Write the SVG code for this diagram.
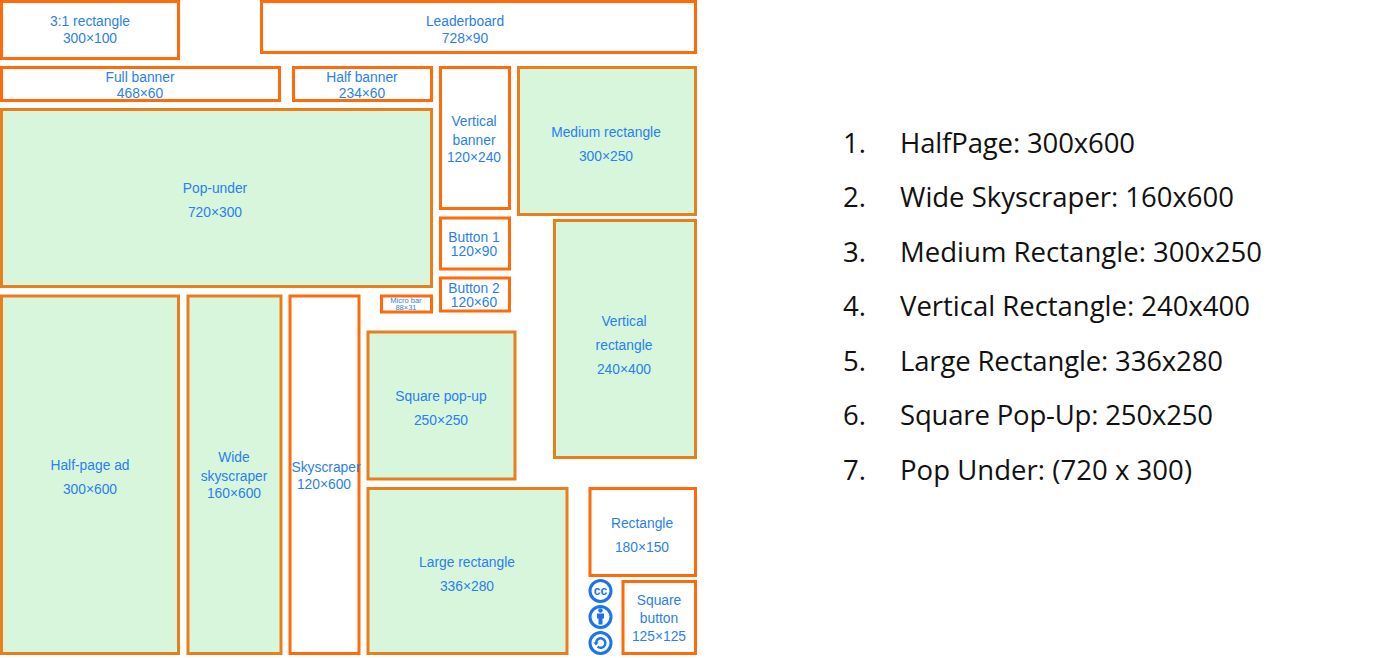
<svg xmlns="http://www.w3.org/2000/svg" width="1385" height="658" viewBox="0 0 1385 658">
<style>
.w{fill:#fff;stroke:#ff6a0a;stroke-width:3}
.g{fill:#d7f6dc;stroke:#e97e1c;stroke-width:3}
text{font-family:"Liberation Sans",Arial,sans-serif;font-size:13.8px;fill:#2a7fee;text-anchor:middle}
.l text{font-family:"Open Sans","Noto Sans",sans-serif;font-size:27.5px;fill:#111;text-anchor:start}
.i{fill:none;stroke:#1a73f0;stroke-width:3}
</style>
<rect width="1385" height="658" fill="#fff"/>
<g id="n1"><rect class="w" x="1.500" y="1.500" width="177" height="57"/><text x="90" y="25.500">3:1 rectangle</text><text x="90" y="43">300×100</text></g>
<g id="n2"><rect class="w" x="261.500" y="1.500" width="434" height="51"/><text x="465" y="25.500">Leaderboard</text><text x="465" y="43">728×90</text></g>
<g id="n3"><rect class="w" x="1.500" y="67.500" width="278" height="33"/><text x="140" y="82">Full banner</text><text x="140" y="97.500">468×60</text></g>
<g id="n4"><rect class="w" x="293.500" y="67.500" width="138" height="33"/><text x="362" y="82">Half banner</text><text x="362" y="97.500">234×60</text></g>
<g id="n5"><rect class="w" x="440.500" y="67.500" width="69" height="141"/><text x="474" y="126">Vertical</text><text x="474" y="144.500">banner</text><text x="474" y="161.500">120×240</text></g>
<g id="n6"><rect class="g" x="518.500" y="67.500" width="177" height="147"/><text x="606" y="136.500">Medium rectangle</text><text x="606" y="160.500">300×250</text></g>
<g id="n7"><rect class="g" x="1.500" y="109.500" width="430" height="177"/><text x="215" y="193">Pop-under</text><text x="215" y="217">720×300</text></g>
<g id="n8"><rect class="w" x="440.500" y="218" width="69" height="51"/><text x="474" y="241.500">Button 1</text><text x="474" y="256">120×90</text></g>
<g id="n9"><rect class="g" x="554.500" y="220.500" width="141" height="237"/><text x="624" y="325.500">Vertical</text><text x="624" y="349.500">rectangle</text><text x="624" y="373.500">240×400</text></g>
<g id="n10"><rect class="w" x="440.500" y="278" width="69" height="33"/><text x="474" y="292.500">Button 2</text><text x="474" y="307">120×60</text></g>
<g id="n11"><rect class="w" x="381.500" y="296" width="50" height="16"/><text x="406" y="303" style="font-size:7.500px">Micro bar</text><text x="406" y="309.500" style="font-size:7.500px">88×31</text></g>
<g id="n12"><rect class="g" x="1.500" y="296" width="177" height="357.500"/><text x="90" y="469.500">Half-page ad</text><text x="90" y="493.500">300×600</text></g>
<g id="n13"><rect class="g" x="188" y="296" width="93" height="357.500"/><text x="234" y="461.500">Wide</text><text x="234" y="480.500">skyscraper</text><text x="234" y="498">160×600</text></g>
<g id="n14"><rect class="w" x="290" y="296" width="69" height="357.500"/><text x="326" y="472">Skyscraper</text><text x="324" y="489">120×600</text></g>
<g id="n15"><rect class="g" x="368" y="332" width="147" height="147"/><text x="441" y="400.500">Square pop-up</text><text x="441" y="424.500">250×250</text></g>
<g id="n16"><rect class="g" x="368" y="488.500" width="199" height="165"/><text x="467" y="566.500">Large rectangle</text><text x="467" y="590.500">336×280</text></g>
<g id="n17"><rect class="w" x="590" y="488.500" width="105.500" height="87"/><text x="642" y="527.500">Rectangle</text><text x="642" y="551.500">180×150</text></g>
<g id="n18"><rect class="w" x="623" y="581.500" width="72.500" height="72"/><text x="659" y="605">Square</text><text x="659" y="622.500">button</text><text x="659" y="641">125×125</text></g>
<g id="cc"><circle class="i" cx="600.500" cy="591" r="10.500"/><text x="600.500" y="595" style="font-size:12px;font-weight:bold;fill:#1a73f0">cc</text></g>
<g id="by"><circle class="i" cx="600.500" cy="617" r="10.500"/><circle cx="600.500" cy="610.500" r="2.200" fill="#1a73f0"/><path d="M597 613.500h7v5h-1.500v6h-4v-6H597z" fill="#1a73f0"/></g>
<g id="sa"><circle class="i" cx="600.500" cy="643" r="10.500"/><path d="M596 643a4.700 4.700 0 1 1 1.600 3.600" fill="none" stroke="#1a73f0" stroke-width="2.500"/><path d="M593.500 642.500h5l-2.500 3z" fill="#1a73f0"/></g>
<g id="list" class="l">
<text x="843" y="153">1.</text><text x="900" y="153" textLength="235">HalfPage: 300x600</text>
<text x="843" y="207">2.</text><text x="900" y="207" textLength="334">Wide Skyscraper: 160x600</text>
<text x="843" y="262">3.</text><text x="900" y="262" textLength="362">Medium Rectangle: 300x250</text>
<text x="843" y="316">4.</text><text x="900" y="316" textLength="350">Vertical Rectangle: 240x400</text>
<text x="843" y="371">5.</text><text x="900" y="371" textLength="323">Large Rectangle: 336x280</text>
<text x="843" y="425">6.</text><text x="900" y="425" textLength="313">Square Pop-Up: 250x250</text>
<text x="843" y="480">7.</text><text x="900" y="480" textLength="292">Pop Under: (720 x 300)</text>
</g>
</svg>
